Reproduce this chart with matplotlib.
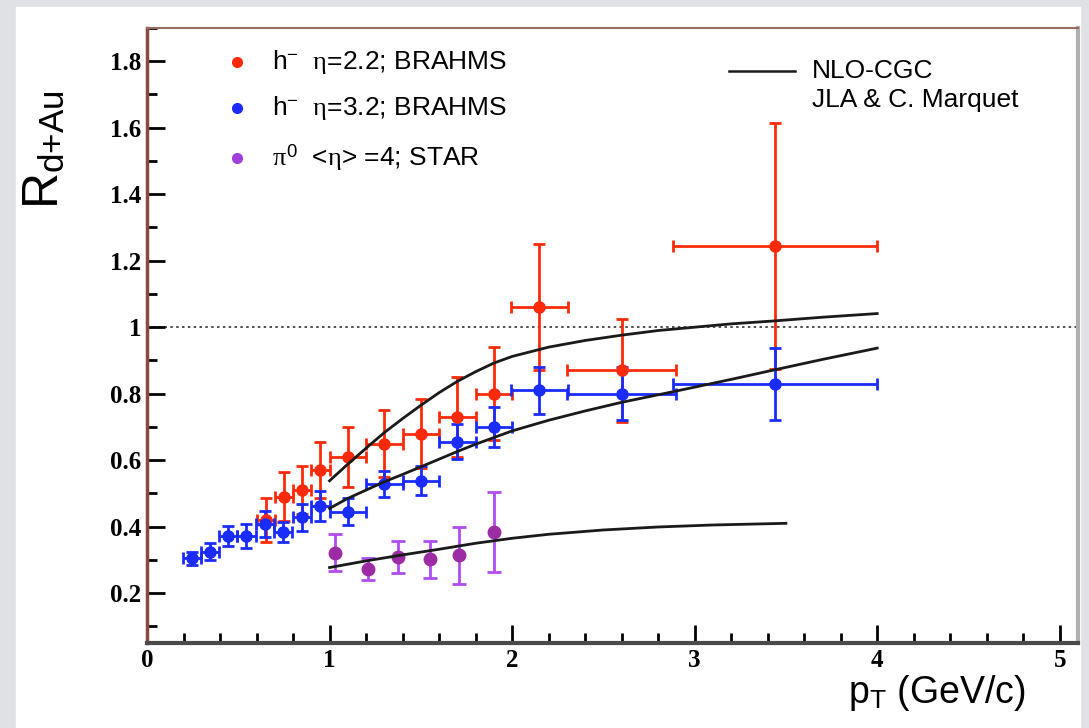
import matplotlib
matplotlib.use("Agg")
import matplotlib.pyplot as plt
from matplotlib.ticker import MultipleLocator, FuncFormatter
from matplotlib.patches import Rectangle

plt.rcParams["font.family"] = ["Liberation Sans", "DejaVu Sans"]
plt.rcParams["mathtext.fontset"] = "custom"
plt.rcParams["mathtext.rm"] = "Liberation Sans"
plt.rcParams["mathtext.sf"] = "Liberation Sans"
plt.rcParams["mathtext.it"] = "Liberation Serif"

# BRAHMS h- , eta = 2.2
pt_22 = [0.65, 0.75, 0.85, 0.95, 1.10, 1.30, 1.50, 1.70, 1.90, 2.15, 2.60, 3.44]
r_22 = [0.42, 0.49, 0.51, 0.57, 0.61, 0.65, 0.68, 0.73, 0.80, 1.06, 0.87, 1.245]
ex_22 = [0.05, 0.05, 0.05, 0.05, 0.1, 0.1, 0.1, 0.1, 0.1, 0.155, 0.3, 0.56]
ey_22 = [0.065, 0.074, 0.072, 0.085, 0.09, 0.10, 0.105, 0.12, 0.14, 0.19, 0.155, 0.37]

# BRAHMS h- , eta = 3.2
pt_32 = [0.245, 0.345, 0.445, 0.545, 0.645, 0.745, 0.85, 0.95, 1.10, 1.30, 1.50,
         1.70, 1.90, 2.15, 2.60, 3.44]
r_32 = [0.305, 0.325, 0.372, 0.372, 0.408, 0.383, 0.428, 0.463, 0.445, 0.528, 0.538,
        0.656, 0.700, 0.810, 0.800, 0.829]
ex_32 = [0.05, 0.05, 0.05, 0.05, 0.05, 0.05, 0.05, 0.05, 0.1, 0.1, 0.1, 0.1, 0.1,
         0.155, 0.3, 0.56]
ey_32 = [0.02, 0.025, 0.03, 0.035, 0.04, 0.03, 0.04, 0.045, 0.04, 0.04, 0.043,
         0.053, 0.06, 0.07, 0.08, 0.108]

# STAR pi0 , <eta> = 4
pt_pi0 = [1.03, 1.21, 1.375, 1.55, 1.71, 1.90]
r_pi0 = [0.322, 0.272, 0.309, 0.302, 0.314, 0.384]
ey_pi0 = [0.056, 0.033, 0.048, 0.056, 0.086, 0.12]

# NLO-CGC curves (JLA & C. Marquet)
cgc22_x = [1.0, 1.1, 1.2, 1.3, 1.4, 1.5, 1.6, 1.7, 1.8, 1.9, 2.0, 2.2, 2.4, 2.6,
           2.8, 3.0, 3.2, 3.44, 3.7, 4.0]
cgc22_y = [0.538, 0.588, 0.636, 0.683, 0.725, 0.765, 0.803, 0.837, 0.866, 0.892,
           0.912, 0.94, 0.96, 0.976, 0.99, 1.0, 1.01, 1.019, 1.03, 1.041]
cgc32_x = [1.0, 1.1, 1.2, 1.3, 1.4, 1.5, 1.6, 1.7, 1.8, 1.9, 2.0, 2.2, 2.4, 2.6,
           2.9, 3.2, 3.44, 3.7, 4.0]
cgc32_y = [0.455, 0.485, 0.51, 0.535, 0.557, 0.58, 0.603, 0.626, 0.648, 0.668,
           0.688, 0.72, 0.748, 0.774, 0.808, 0.843, 0.872, 0.903, 0.937]
cgcpi_x = [1.0, 1.2, 1.4, 1.6, 1.8, 2.0, 2.2, 2.5, 2.8, 3.1, 3.5]
cgcpi_y = [0.277, 0.297, 0.315, 0.332, 0.35, 0.365, 0.377, 0.39, 0.399, 0.405, 0.41]

red = "#ff2a0a"
blue = "#1a2cff"
purple_m = "#9c2ca4"
purple_e = "#b04cf2"

fig = plt.figure(figsize=(10.89, 7.28), dpi=100, facecolor="#e0e1e4")
fig.add_artist(Rectangle((16 / 1089, 0), (1080 - 16) / 1089, 1 - 7 / 728,
                         transform=fig.transFigure, color="white", zorder=-10))
ax = fig.add_axes([147 / 1089, 1 - 643 / 728, 931 / 1089, 615 / 728])
ax.set_xlim(0, 5.1)
ax.set_ylim(0.05, 1.9)

ax.axhline(1.0, color="#333333", lw=1.2, ls=(0, (1.5, 2)), zorder=1)

kw = dict(fmt="o", ms=8, elinewidth=2, capsize=4, capthick=2, zorder=3)
ax.errorbar(pt_22, r_22, xerr=ex_22, yerr=ey_22, color=red, ecolor=red, **kw)
ax.errorbar(pt_32, r_32, xerr=ex_32, yerr=ey_32, color=blue, ecolor=blue, **kw)
ax.errorbar(pt_pi0, r_pi0, yerr=ey_pi0, fmt="o", ms=9, color=purple_m,
            ecolor=purple_e, elinewidth=2, capsize=5, capthick=2, zorder=3)

for cx, cy in [(cgc22_x, cgc22_y), (cgc32_x, cgc32_y), (cgcpi_x, cgcpi_y)]:
    ax.plot(cx, cy, color="#1a1a1a", lw=2.0, zorder=4)

# axes styling
ax.xaxis.set_major_locator(MultipleLocator(1))
ax.xaxis.set_minor_locator(MultipleLocator(0.2))
ax.yaxis.set_major_locator(MultipleLocator(0.2))
ax.yaxis.set_minor_locator(MultipleLocator(0.1))
ax.yaxis.set_major_formatter(FuncFormatter(lambda v, p: "%g" % round(v, 2)))
ax.xaxis.set_major_formatter(FuncFormatter(lambda v, p: "%g" % round(v, 2)))
ax.tick_params(which="both", direction="in", top=False, right=False, width=2,
               color="black")
ax.tick_params(which="major", length=13)
ax.tick_params(which="minor", length=7)
ax.tick_params(axis="y", which="major", pad=4)
ax.tick_params(axis="x", which="major", pad=4)
for lab in ax.get_xticklabels() + ax.get_yticklabels():
    lab.set_fontfamily("Liberation Serif")
    lab.set_fontweight("bold")
    lab.set_fontsize(18)

ax.spines["left"].set_color("#8a4a42")
ax.spines["left"].set_linewidth(2.5)
ax.spines["top"].set_color("#9b6a60")
ax.spines["top"].set_linewidth(1.5)
ax.spines["bottom"].set_color("#4a4a4a")
ax.spines["bottom"].set_linewidth(3)
ax.spines["right"].set_color("#b0b0b0")
ax.spines["right"].set_linewidth(3)

# axis titles
fig.text(45 / 1089, 1 - 150 / 728, r"$\mathrm{R}_{\mathrm{d{+}Au}}$", rotation=90,
         ha="center", va="center", fontsize=36)
fig.text(1025 / 1089, 1 - 703 / 728, r"$\mathrm{p}_{\mathrm{T}}$ (GeV/c)",
         ha="right", va="baseline", fontsize=27)

# legend, left block
leg = [(red, r"h$^{\mathrm{-}}$  $\eta$=2.2; BRAHMS", 62),
       (blue, r"h$^{\mathrm{-}}$  $\eta$=3.2; BRAHMS", 108),
       ("#a040d8", r"$\pi^{\mathrm{0}}$  <$\eta$> =4; STAR", 158)]
for col, txt, py in leg:
    yy = 1 - (py - 28) / 615
    ax.plot([0.0967], [yy], "o", ms=7, color=col, transform=ax.transAxes,
            clip_on=False, zorder=5)
    ax.text(0.1343, yy, txt, transform=ax.transAxes, va="center", ha="left",
            fontsize=19)

# legend, right block
ax.plot([0.625, 0.696], [0.930, 0.930], color="#1a1a1a", lw=1.8,
        transform=ax.transAxes)
ax.text(0.714, 0.930, "NLO-CGC", transform=ax.transAxes, va="center",
        ha="left", fontsize=19)
ax.text(0.714, 0.883, "JLA & C. Marquet", transform=ax.transAxes, va="center",
        ha="left", fontsize=19)

fig.savefig("out.png", dpi=100, facecolor=fig.get_facecolor())
